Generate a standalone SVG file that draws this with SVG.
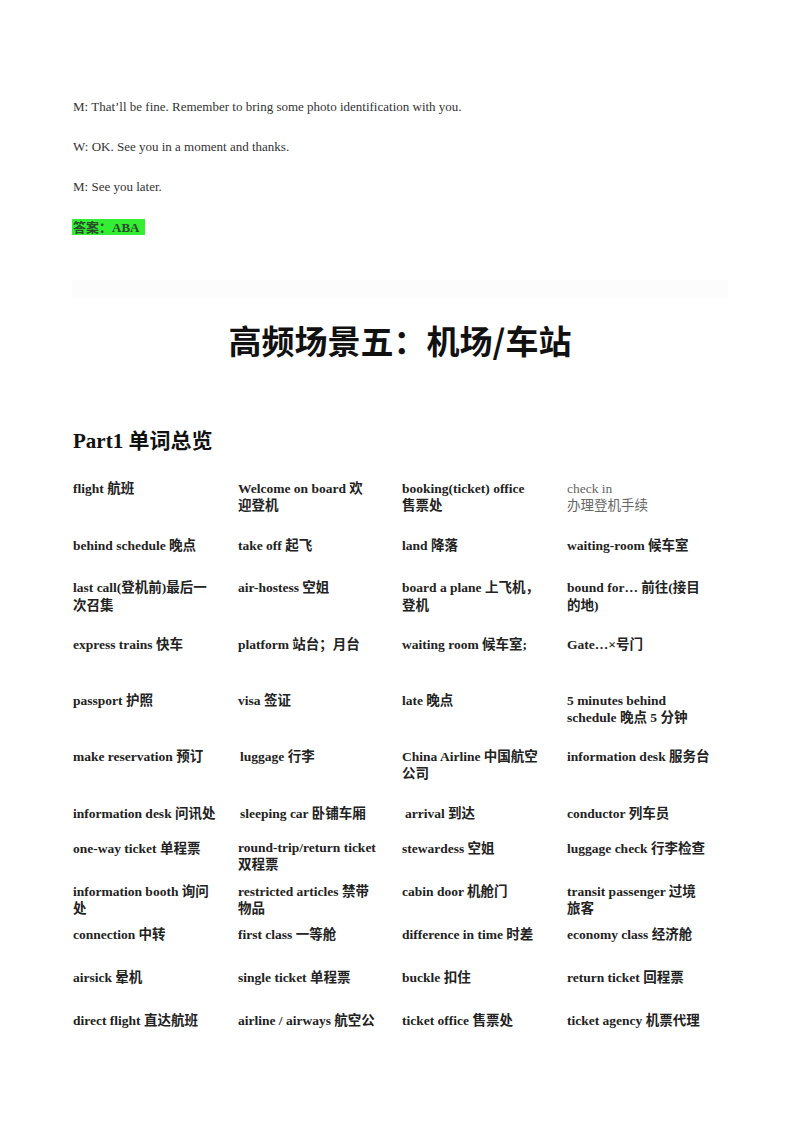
<svg xmlns="http://www.w3.org/2000/svg" width="800" height="1132" viewBox="0 0 800 1132">
<style>
.d{font-family:"Liberation Serif","Noto Sans CJK SC",serif;font-size:13px;fill:#333}
.w{font-family:"Liberation Serif","Noto Sans CJK SC",serif;font-size:13.5px;font-weight:bold;fill:#222}
.g{fill:#666;font-weight:normal}
</style>
<rect width="800" height="1132" fill="#fff"/>
<text class="d" x="73" y="111">M: That’ll be fine. Remember to bring some photo identification with you.</text>
<text class="d" x="73" y="151">W: OK. See you in a moment and thanks.</text>
<text class="d" x="73" y="191">M: See you later.</text>
<rect x="72" y="219" width="73" height="16" fill="#33ee33"/>
<text class="w" x="73" y="232" style="fill:#2a4a2a;font-size:13px">答案：ABA</text>
<rect x="72" y="280" width="656" height="18" fill="#fcfcfc"/>
<text x="400" y="354" text-anchor="middle" style="font-family:'Noto Sans CJK SC',sans-serif;font-size:33px;font-weight:bold;fill:#111">高频场景五：机场/车站</text>
<text x="73" y="448" style="font-family:'Liberation Serif','Noto Sans CJK SC',serif;font-size:21px;font-weight:bold;fill:#111">Part1  单词总览</text>
<g id="table">
<text class="w" x="73" y="493">flight 航班</text>
<text class="w" x="238" y="493">Welcome on board  欢</text><text class="w" x="238" y="510">迎登机</text>
<text class="w" x="402" y="493">booking(ticket) office</text><text class="w" x="402" y="510">售票处</text>
<text class="w g" x="567" y="493">check in</text><text class="w g" x="567" y="510">办理登机手续</text>

<text class="w" x="73" y="550">behind schedule 晚点</text>
<text class="w" x="238" y="550">take off 起飞</text>
<text class="w" x="402" y="550">land 降落</text>
<text class="w" x="567" y="550">waiting-room 候车室</text>

<text class="w" x="73" y="592">last call(登机前)最后一</text><text class="w" x="73" y="610">次召集</text>
<text class="w" x="238" y="592">air-hostess 空姐</text>
<text class="w" x="402" y="592">board a plane 上飞机，</text><text class="w" x="402" y="610">登机</text>
<text class="w" x="567" y="592">bound for… 前往(接目</text><text class="w" x="567" y="610">的地)</text>

<text class="w" x="73" y="649">express trains 快车</text>
<text class="w" x="238" y="649">platform 站台；月台</text>
<text class="w" x="402" y="649">waiting room 候车室;</text>
<text class="w" x="567" y="649">Gate…×号门</text>

<text class="w" x="73" y="705">passport 护照</text>
<text class="w" x="238" y="705">visa 签证</text>
<text class="w" x="402" y="705">late 晚点</text>
<text class="w" x="567" y="705">5 minutes behind</text><text class="w" x="567" y="722">schedule 晚点 5 分钟</text>

<text class="w" x="73" y="761">make reservation 预订</text>
<text class="w" x="240" y="761">luggage 行李</text>
<text class="w" x="402" y="761">China Airline 中国航空</text><text class="w" x="402" y="778">公司</text>
<text class="w" x="567" y="761">information desk 服务台</text>

<text class="w" x="73" y="818">information desk 问讯处</text>
<text class="w" x="240" y="818">sleeping car 卧铺车厢</text>
<text class="w" x="405" y="818">arrival 到达</text>
<text class="w" x="567" y="818">conductor 列车员</text>

<text class="w" x="73" y="853">one-way ticket 单程票</text>
<text class="w" x="238" y="852">round-trip/return  ticket</text><text class="w" x="238" y="869">双程票</text>
<text class="w" x="402" y="853">stewardess 空姐</text>
<text class="w" x="567" y="853">luggage check 行李检查</text>

<text class="w" x="73" y="896">information booth 询问</text><text class="w" x="73" y="913">处</text>
<text class="w" x="238" y="896">restricted articles  禁带</text><text class="w" x="238" y="913">物品</text>
<text class="w" x="402" y="896">cabin door 机舱门</text>
<text class="w" x="567" y="896">transit passenger  过境</text><text class="w" x="567" y="913">旅客</text>

<text class="w" x="73" y="939">connection 中转</text>
<text class="w" x="238" y="939">first class 一等舱</text>
<text class="w" x="402" y="939">difference in time 时差</text>
<text class="w" x="567" y="939">economy class 经济舱</text>

<text class="w" x="73" y="982">airsick 晕机</text>
<text class="w" x="238" y="982">single ticket 单程票</text>
<text class="w" x="402" y="982">buckle 扣住</text>
<text class="w" x="567" y="982">return ticket 回程票</text>

<text class="w" x="73" y="1025">direct flight 直达航班</text>
<text class="w" x="238" y="1025">airline / airways 航空公</text>
<text class="w" x="402" y="1025">ticket office 售票处</text>
<text class="w" x="567" y="1025">ticket agency 机票代理</text>
</g>
</svg>
